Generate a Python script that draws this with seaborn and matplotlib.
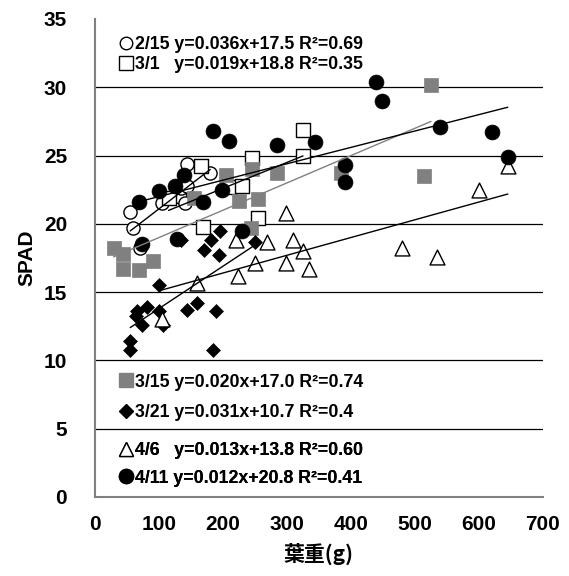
import numpy as np
import pandas as pd
import seaborn as sns
import matplotlib.pyplot as plt
from matplotlib.lines import Line2D

# ---------------- data ----------------
d215_x = [55, 60, 70, 104, 133, 135, 141, 143, 143, 180]
d215_y = [20.9, 19.7, 18.2, 21.5, 22.0, 22.6, 21.5, 22.8, 24.4, 23.7]

d301_x = [115, 165, 169, 211, 229, 245, 254, 325, 325]
d301_y = [21.9, 24.2, 19.8, 22.7, 22.8, 24.8, 20.4, 26.9, 25.0]

d315_x = [29, 44, 43, 69, 90, 154, 205, 225, 245, 244, 255, 284, 384, 514, 525]
d315_y = [18.2, 17.8, 16.7, 16.6, 17.3, 21.9, 23.6, 21.7, 24.0, 19.7, 21.8, 23.7, 23.7, 23.5, 30.2]

d321_x = [55, 55, 64, 66, 74, 81, 100, 100, 106, 134, 144, 160, 170, 181, 185, 189, 194, 195, 250]
d321_y = [11.4, 10.8, 13.25, 13.6, 12.6, 13.9, 15.5, 13.6, 12.6, 18.8, 13.7, 14.2, 18.1, 18.8, 10.8, 13.6, 17.7, 19.5, 18.7]

d406_x = [104, 159, 220, 224, 250, 269, 299, 299, 310, 325, 334, 480, 535, 600, 645]
d406_y = [13.0, 15.7, 18.8, 16.2, 17.1, 18.7, 20.8, 17.1, 18.8, 18.0, 16.7, 18.2, 17.6, 22.5, 24.2]

d411_x = [69, 74, 100, 125, 128, 139, 169, 184, 199, 209, 230, 284, 344, 390, 390, 439, 449, 539, 620, 645]
d411_y = [21.6, 18.5, 22.4, 22.8, 18.9, 23.6, 21.6, 26.8, 22.5, 26.1, 19.5, 25.8, 26.0, 24.3, 23.1, 30.4, 29.0, 27.1, 26.7, 24.9]

dates = ["2/15", "3/1", "3/15", "3/21", "4/6", "4/11"]
slopes = [0.036, 0.019, 0.020, 0.031, 0.013, 0.012]
intercepts = [17.5, 18.8, 17.0, 10.7, 13.8, 20.8]
r2_text = ["0.69", "0.35", "0.74", "0.4", "0.60", "0.41"]
date_pad = ["2/15 ", "3/1   ", "3/15 ", "3/21 ", "4/6   ", "4/11 "]

x_ticks = [0, 100, 200, 300, 400, 500, 600, 700]
y_ticks = [0, 5, 10, 15, 20, 25, 30, 35]

# ---------------- style ----------------
sns.set_theme(style="white")
plt.rcParams["font.family"] = ["Liberation Sans", "Noto Sans CJK JP", "DejaVu Sans"]
plt.rcParams["text.color"] = "black"
plt.rcParams["axes.labelcolor"] = "black"
plt.rcParams["xtick.color"] = "black"
plt.rcParams["ytick.color"] = "black"

GRAY = "#808080"
styles = [
    dict(marker="o", fc="white", ec="black", s=90, lw=1.0, lc="black"),
    dict(marker="s", fc="white", ec="black", s=100, lw=1.0, lc="black"),
    dict(marker="s", fc=GRAY, ec=GRAY, s=105, lw=0.5, lc=GRAY),
    dict(marker="D", fc="black", ec="black", s=50, lw=0.5, lc="black"),
    dict(marker="^", fc="white", ec="black", s=115, lw=1.0, lc="black"),
    dict(marker="o", fc="black", ec="black", s=115, lw=0.5, lc="black"),
]
xs_all = [d215_x, d301_x, d315_x, d321_x, d406_x, d411_x]
ys_all = [d215_y, d301_y, d315_y, d321_y, d406_y, d411_y]

fig = plt.figure(figsize=(5.69, 5.76), dpi=100)
ax = fig.add_axes([95 / 569, 1 - 497 / 576, 448 / 569, 478 / 576])

for xs, ys, st in zip(xs_all, ys_all, styles):
    sns.scatterplot(x=xs, y=ys, marker=st["marker"], s=st["s"], color=st["fc"],
                    edgecolor=st["ec"], linewidth=st["lw"], ax=ax, zorder=3)

for xs, m, b, st in zip(xs_all, slopes, intercepts, styles):
    lx = np.array([min(xs), max(xs)], dtype=float)
    sns.lineplot(x=lx, y=m * lx + b, color=st["lc"], linewidth=1.0, ax=ax, zorder=4)

ax.set_xlim(0, 700)
ax.set_ylim(0, 35)
ax.set_xticks(x_ticks)
ax.set_yticks(y_ticks)
ax.set_xticklabels([str(v) for v in x_ticks], fontweight="bold", fontsize=15, color="black")
ax.set_yticklabels([str(v) for v in y_ticks], fontweight="bold", fontsize=15, color="black")

for yv in y_ticks:
    if 0 < yv < 35:
        ax.axhline(yv, color="black", linewidth=0.9, zorder=1)

for side in ["top", "right"]:
    ax.spines[side].set_visible(False)
for side in ["left", "bottom"]:
    ax.spines[side].set_color(GRAY)
    ax.spines[side].set_linewidth(1.5)

ax.tick_params(axis="both", direction="in", length=4, width=1, color="black")
ax.tick_params(axis="y", pad=20)
ax.tick_params(axis="x", pad=13)

ax.set_xlabel("葉重(g)", fontsize=15, fontweight="bold", color="black",
              family=["Noto Sans CJK JP", "DejaVu Sans"], labelpad=6)
ax.set_ylabel("SPAD", fontsize=15, fontweight="bold", color="black", labelpad=5)

# ---------------- legends ----------------
def handle(st):
    return Line2D([], [], ls="none", marker=st["marker"], markerfacecolor=st["fc"],
                  markeredgecolor=st["ec"], markeredgewidth=1.0,
                  markersize=np.sqrt(st["s"]) * 0.95)

labels = [f"{date_pad[i]}y={slopes[i]:.3f}x+{intercepts[i]:.1f} R²={r2_text[i]}" for i in range(6)]

groups = [([0, 1], (0.055, 0.965), 0.2), ([2, 3], (0.055, 0.258), 0.75), ([4, 5], (0.055, 0.115), 0.6)]
for idx, anchor, spacing in groups:
    leg = ax.legend([handle(styles[i]) for i in idx], [labels[i] for i in idx],
                    loc="upper left", bbox_to_anchor=anchor, frameon=False,
                    handlelength=0.7, handletextpad=0.15, borderaxespad=0, borderpad=0,
                    labelspacing=spacing, prop=dict(weight="bold", size=12.8))
    for t in leg.get_texts():
        t.set_color("black")
    ax.add_artist(leg)

fig.savefig("out.png", dpi=100)
